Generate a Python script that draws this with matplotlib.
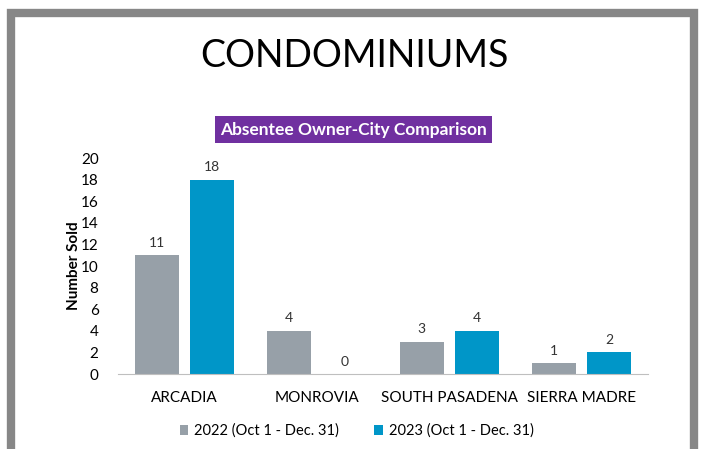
import numpy as np
import matplotlib.pyplot as plt
from matplotlib.patches import Rectangle

cities = ['ARCADIA', 'MONROVIA', 'SOUTH PASADENA', 'SIERRA MADRE']
sold_2022 = [11, 4, 3, 1]
sold_2023 = [18, 0, 4, 2]
series_names = ['2022 (Oct 1 - Dec. 31)', '2023 (Oct 1 - Dec. 31)']
yticks = [0, 2, 4, 6, 8, 10, 12, 14, 16, 18, 20]

gris = '#97A0A8'
azul = '#0096C8'
morado = '#7030A0'

plt.rcParams['font.family'] = ['Lato', 'DejaVu Sans']

fig = plt.figure(figsize=(7.05, 4.49), dpi=100)
fig.patch.set_facecolor('white')

# marco gris alrededor del gráfico
marco = Rectangle((11 / 705, -0.05), (694 - 11) / 705, 1.05 - 13 / 449,
                  transform=fig.transFigure, fill=False,
                  edgecolor='#878787', linewidth=6)
fig.patches.append(marco)

fig.text(0.503, 1 - 56 / 449, 'CONDOMINIUMS', ha='center', va='center',
         fontsize=27, color='black')
fig.text(0.502, 1 - 129.5 / 449, 'Absentee Owner-City Comparison', ha='center',
         va='center', fontsize=12.5, fontweight='bold', color='white',
         bbox=dict(boxstyle='square,pad=0.3', facecolor=morado, edgecolor='none'))

ax = fig.add_axes([118 / 705, 75 / 449, 530 / 705, 216 / 449])
x = np.arange(len(cities))
ancho = 0.335
sep = 0.04
b1 = ax.bar(x - ancho / 2 - sep, sold_2022, ancho, color=gris, label=series_names[0])
b2 = ax.bar(x + ancho / 2 + sep, sold_2023, ancho, color=azul, label=series_names[1])

for barras, vals in ((b1, sold_2022), (b2, sold_2023)):
    for r, v in zip(barras, vals):
        ax.text(r.get_x() + r.get_width() / 2, v + 0.6, str(v), ha='center',
                va='bottom', fontsize=10, color='#333333')

ax.set_xlim(-0.5, 3.5)
ax.set_ylim(0, 20)
ax.set_yticks(yticks)
ax.set_xticks(x)
ax.set_xticklabels(cities)
ax.tick_params(axis='both', length=0, labelsize=11, colors='black')
ax.tick_params(axis='x', pad=12)
ax.tick_params(axis='y', pad=14)
for s in ['top', 'right', 'left']:
    ax.spines[s].set_visible(False)
ax.spines['bottom'].set_color('#BFBFBF')
ax.set_ylabel('Number Sold', fontsize=11, fontweight='bold', labelpad=0)

ax.legend(loc='upper center', bbox_to_anchor=(0.45, -0.17), ncol=2, frameon=False,
          fontsize=10.5, handlelength=0.6, handleheight=0.6, handletextpad=0.4,
          columnspacing=2.4)

fig.savefig('out.png', dpi=100)
